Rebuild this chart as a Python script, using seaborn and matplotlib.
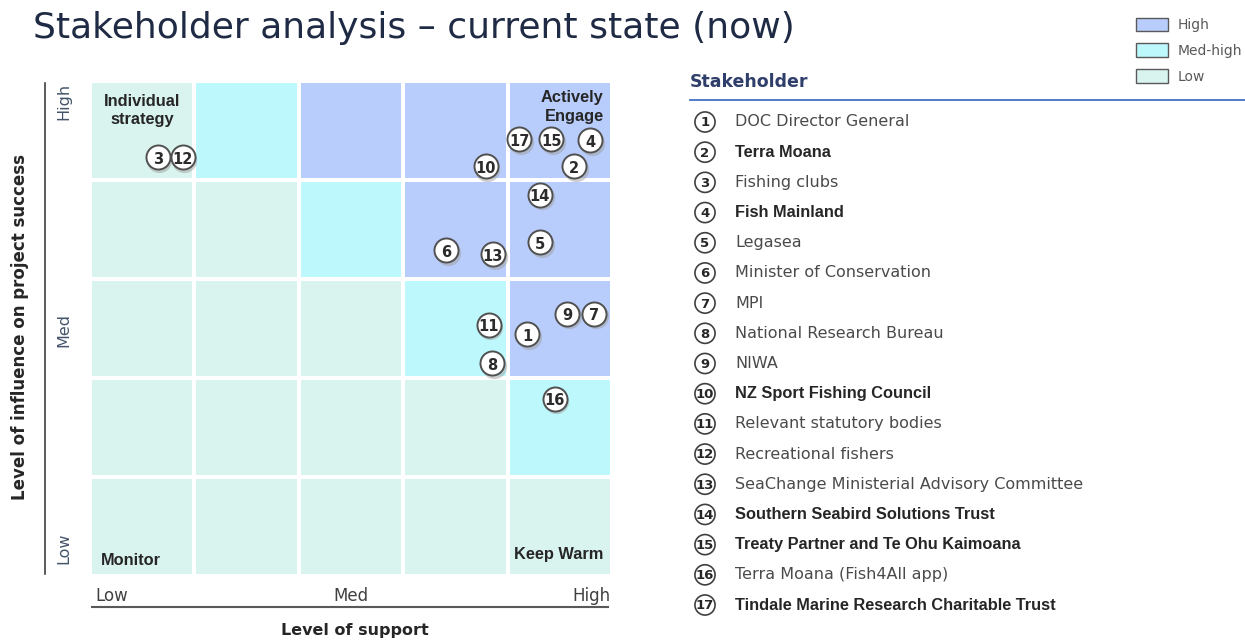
import numpy as np
import pandas as pd
import seaborn as sns
import matplotlib.pyplot as plt
from matplotlib.colors import ListedColormap
from matplotlib.patches import Patch

# Grid of priority levels (rows top = High influence, cols left = Low support)
# 0 = Low, 1 = Med-high, 2 = High
grid_levels = [
    [0, 1, 2, 2, 2],
    [0, 0, 1, 2, 2],
    [0, 0, 0, 1, 2],
    [0, 0, 0, 0, 1],
    [0, 0, 0, 0, 0],
]
level_names = ['Low', 'Med-high', 'High']
level_colors = ['#d9f4ef', '#bdf8fc', '#b8cdfc']

# Stakeholder positions, 0..5 scale (support on x, influence on y)
ids = list(range(1, 18))
support = [4.19, 4.64, 0.65, 4.79, 4.31, 3.41, 4.83, 3.85, 4.57, 3.79,
           3.82, 0.89, 3.86, 4.31, 4.42, 4.45, 4.11]
influence = [2.44, 4.14, 4.23, 4.40, 3.37, 3.29, 2.65, 2.15, 2.65, 4.14,
             2.54, 4.23, 3.25, 3.85, 4.41, 1.79, 4.41]

names = ['DOC Director General', 'Terra Moana', 'Fishing clubs', 'Fish Mainland',
         'Legasea', 'Minister of Conservation', 'MPI', 'National Research Bureau',
         'NIWA', 'NZ Sport Fishing Council', 'Relevant statutory bodies',
         'Recreational fishers', 'SeaChange Ministerial Advisory Committee',
         'Southern Seabird Solutions Trust', 'Treaty Partner and Te Ohu Kaimoana',
         'Terra Moana (Fish4All app)', 'Tindale Marine Research Charitable Trust']
bold_ids = [2, 4, 10, 14, 15, 17]

axis_ticks = ['Low', 'Med', 'High']

df = pd.DataFrame({'id': ids, 'support': support, 'influence': influence})

W, H = 1245, 641
fig = plt.figure(figsize=(W / 100, H / 100), dpi=100)
light = 'DejaVu Sans'
bold = 'DejaVu Sans'
arial = 'Liberation Sans'

# overlay in pixel coordinates for titles / labels
ov = fig.add_axes([0, 0, 1, 1])
ov.set_xlim(0, W)
ov.set_ylim(H, 0)
ov.axis('off')

# heatmap grid
x0, x1, y0, y1 = 90, 612, 81, 576
ax = fig.add_axes([x0 / W, 1 - y1 / H, (x1 - x0) / W, (y1 - y0) / H])
sns.heatmap(np.array(grid_levels), cmap=ListedColormap(level_colors), vmin=-0.5, vmax=2.5,
            cbar=False, linewidths=2.8, linecolor='white', ax=ax)
ax.set_xticks([])
ax.set_yticks([])
ax.set_xlim(0, 5)
ax.set_ylim(5, 0)

px = df['support']
py = 5 - df['influence']
ax.scatter(px + 0.015, py + 0.025, s=330, color='#a0a0a0', alpha=0.5, linewidths=0, zorder=3)
ax.scatter(px, py, s=300, facecolor='white', edgecolor='#505050', linewidths=1.4, zorder=4)
for i, x, y in zip(df['id'], px, py):
    ax.text(x, y + 0.02, str(i), ha='center', va='center', fontsize=10.5, fontweight='bold',
            color='#2b2b2b', family=bold, zorder=5)

ax.text(0.5, 0.13, 'Individual\nstrategy', ha='center', va='top', fontsize=11.8,
        fontweight='bold', color='#262626', family=arial, linespacing=1.3)
ax.text(4.92, 0.09, 'Actively\nEngage', ha='right', va='top', fontsize=11.8,
        fontweight='bold', color='#262626', family=arial, linespacing=1.3)
ax.text(0.1, 4.84, 'Monitor', ha='left', va='center', fontsize=11.8,
        fontweight='bold', color='#262626', family=arial)
ax.text(4.92, 4.78, 'Keep Warm', ha='right', va='center', fontsize=11.8,
        fontweight='bold', color='#262626', family=arial)

# axes decoration
ov.plot([45, 45], [83, 574], color='#404040', lw=1.2)
ov.plot([92, 608], [607, 607], color='#595959', lw=1.5)
for lab, yy in zip(axis_ticks, [548, 330, 101]):
    ov.text(64, yy, lab, rotation=90, ha='center', va='center', fontsize=11.5,
            color='#44546a', family=light)
ov.text(95, 596, axis_ticks[0], ha='left', va='center', fontsize=12, color='#404040', family=light)
ov.text(351, 596, axis_ticks[1], ha='center', va='center', fontsize=12, color='#404040', family=light)
ov.text(610, 596, axis_ticks[2], ha='right', va='center', fontsize=12, color='#404040', family=light)
ov.text(20, 327, 'Level of influence on project success', rotation=90, ha='center',
        va='center', fontsize=12, fontweight='bold', color='#262626', family=bold)
ov.text(355, 631, 'Level of support', ha='center', va='center', fontsize=11.5,
        fontweight='bold', color='#262626', family=bold)

ov.text(33, 28, 'Stakeholder analysis \u2013 current state (now)', ha='left', va='center',
        fontsize=26, color='#1f2a44', family=light)

# stakeholder list
ov.text(690, 82, 'Stakeholder', ha='left', va='center', fontsize=12.5, fontweight='bold',
        color='#2f3e6b', family=bold)
ov.plot([690, 1245], [100, 100], color='#4472c4', lw=1.3)

la = fig.add_axes([690 / W, 1 - 620.1 / H, 555 / W, (620.1 - 106.9) / H])
la.set_xlim(0, 555)
la.set_ylim(17.5, 0.5)
la.axis('off')
la.scatter([15] * len(ids), ids, s=210, facecolor='none', edgecolor='#404040', linewidths=1.2)
for i, name in zip(ids, names):
    isb = i in bold_ids
    la.text(15, i + 0.03, str(i), ha='center', va='center', fontsize=9.5, fontweight='bold',
            color='#262626', family=bold)
    la.text(45, i, name, ha='left', va='center', fontsize=11.8 if isb else 11.5,
            fontweight='bold' if isb else 'normal',
            color='#262626' if isb else '#4a4a4a', family=arial if isb else light)

handles = [Patch(facecolor=c, edgecolor='#595959', label=n)
           for c, n in zip(level_colors[::-1], level_names[::-1])]
fig.legend(handles=handles, loc='upper right', bbox_to_anchor=(1.008, 0.992), frameon=False,
           fontsize=10, handlelength=2.3, handleheight=1.15, labelspacing=0.8,
           handletextpad=0.7, labelcolor='#595959')

fig.savefig('out.png', dpi=100)
